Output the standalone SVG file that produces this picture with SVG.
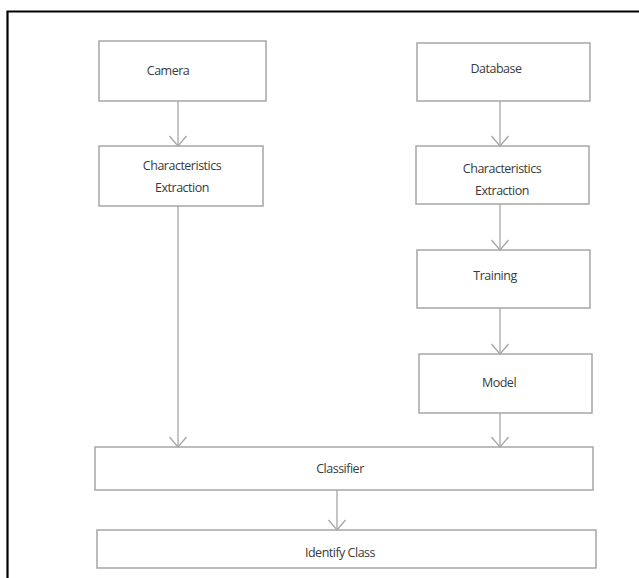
<svg xmlns="http://www.w3.org/2000/svg" width="639" height="578" viewBox="0 0 639 578">
<style>
.box{fill:#fff;stroke:#a6a6a6;stroke-width:1.5}
.lbl{font-family:"Open Sans","Noto Sans",sans-serif;font-size:12.5px;fill:#3a3a3a;text-anchor:middle;letter-spacing:-0.5px}
.edge{stroke:#a6a6a6;stroke-width:1.3;fill:none}
</style>
<defs>
<marker id="arr" markerWidth="14" markerHeight="20" refX="11" refY="9" orient="auto" markerUnits="userSpaceOnUse">
<path d="M1,0.5 L11,9 L1,17.5" fill="none" stroke="#a6a6a6" stroke-width="1.3"/>
</marker>
</defs>
<rect width="639" height="578" fill="#fff"/>
<path d="M7.5,578 V11.5 H639" fill="none" stroke="#000" stroke-width="2.2"/>
<g id="camera"><rect class="box" x="99" y="41" width="167" height="60"/><text class="lbl" x="168" y="75">Camera</text></g>
<g id="ce-left"><rect class="box" x="99" y="146" width="164" height="60"/><text class="lbl" x="182" y="170">Characteristics</text><text class="lbl" x="182" y="192">Extraction</text></g>
<g id="database"><rect class="box" x="417" y="43" width="173" height="58"/><text class="lbl" x="496" y="73">Database</text></g>
<g id="ce-right"><rect class="box" x="416" y="146" width="173" height="58"/><text class="lbl" x="502" y="173">Characteristics</text><text class="lbl" x="502" y="195">Extraction</text></g>
<g id="training"><rect class="box" x="417" y="250" width="173" height="58"/><text class="lbl" x="495" y="280">Training</text></g>
<g id="model"><rect class="box" x="419" y="354" width="173" height="59"/><text class="lbl" x="499" y="387">Model</text></g>
<g id="classifier"><rect class="box" x="95" y="447" width="498" height="43"/><text class="lbl" x="340" y="473">Classifier</text></g>
<g id="identify"><rect class="box" x="97" y="530" width="499" height="38"/><text class="lbl" x="340" y="557">Identify Class</text></g>
<g id="connectors">
<line class="edge" x1="178" y1="101" x2="178" y2="146" marker-end="url(#arr)"/>
<line class="edge" x1="178" y1="206" x2="178" y2="447" marker-end="url(#arr)"/>
<line class="edge" x1="500" y1="101" x2="500" y2="146" marker-end="url(#arr)"/>
<line class="edge" x1="500" y1="204" x2="500" y2="250" marker-end="url(#arr)"/>
<line class="edge" x1="500" y1="308" x2="500" y2="354" marker-end="url(#arr)"/>
<line class="edge" x1="500" y1="413" x2="500" y2="447" marker-end="url(#arr)"/>
<line class="edge" x1="337" y1="490" x2="337" y2="530" marker-end="url(#arr)"/>
</g>
</svg>
